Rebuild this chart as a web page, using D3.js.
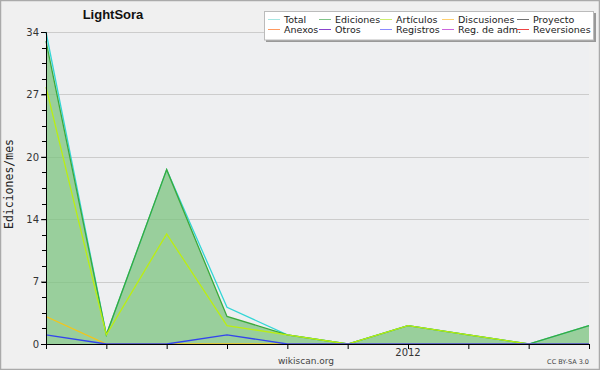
<!DOCTYPE html>
<html><head><meta charset="utf-8">
<script src="https://cdn.jsdelivr.net/npm/d3@7"></script>
<style>body{margin:0;background:#fff}svg{display:block;font-family:"DejaVu Sans",sans-serif}</style>
</head><body><svg id="c" width="600" height="370"></svg>
<script>
const months = ["2011-07","2011-08","2011-09","2011-10","2011-11","2011-12","2012-01","2012-02","2012-03","2012-04"];
const total      = [34,1,19,4,1,0,2,1,0,2];
const ediciones  = [33,1,19,3,1,0,2,1,0,2];
const articulos  = [28,1,12,2,1,0,2,1,0,0];
const discusiones= [3,0,0,0,0,0,0,0,0,0];
const proyecto   = [0,0,0,0,0,0,0,0,0,0];
const anexos     = [0,0,0,0,0,0,0,0,0,0];
const otros      = [0,0,0,0,0,0,0,0,0,0];
const registros  = [1,0,0,1,0,0,0,0,0,0];
const regAdm     = [0,0,0,0,0,0,0,0,0,0];
const reversiones= [0,0,0,0,0,0,0,0,0,0];
const yTicks = [0,7,14,20,27,34];
const xLabels = [{i:6,t:"2012"}];

const series = [
 {name:"Total",vals:total,legend:"#a6e6e2",line:"#33d6d6"},
 {name:"Ediciones",vals:ediciones,legend:"#80c488",line:"#3aaa3a"},
 {name:"Artículos",vals:articulos,legend:"#cdee70",line:"#bbee11"},
 {name:"Discusiones",vals:discusiones,legend:"#ffd070",line:"#f5c518"},
 {name:"Proyecto",vals:proyecto,legend:"#707070",line:"#555"},
 {name:"Anexos",vals:anexos,legend:"#ff9a60",line:"#ff7a30"},
 {name:"Otros",vals:otros,legend:"#8a44cc",line:"#7733bb"},
 {name:"Registros",vals:registros,legend:"#8a8aff",line:"#3344ee"},
 {name:"Reg. de adm.",vals:regAdm,legend:"#cc66dd",line:"#bb44cc"},
 {name:"Reversiones",vals:reversiones,legend:"#ee4444",line:"#dd2222"}
];

const svg = d3.select("#c");
svg.append("rect").attr("x",0.5).attr("y",0.5).attr("width",599).attr("height",369)
  .attr("fill","#f0f0f0").attr("stroke","#aaa").attr("stroke-width",1.5);
const L=46,R=589,T=32,B=344;
svg.append("rect").attr("x",L).attr("y",T).attr("width",R-L).attr("height",B-T).attr("fill","#eeeff1");

const x = d3.scaleLinear().domain([0,months.length-1]).range([L,R]);
const y = d3.scaleLinear().domain([0,34]).range([B,T]);
const yMajor = [0,6.8,13.6,20.4,27.2,34];

// grid
svg.append("g").selectAll("line").data(yMajor.slice(1)).join("line")
  .attr("x1",L).attr("x2",R).attr("y1",d=>Math.round(y(d))+0.5).attr("y2",d=>Math.round(y(d))+0.5)
  .attr("stroke","#cccccc").attr("stroke-width",1);

// area
svg.append("path").datum(ediciones)
  .attr("d",d3.area().x((d,i)=>x(i)).y0(B).y1(d=>y(d)))
  .attr("fill","#7cc47f").attr("fill-opacity",0.75);

// lines
const line = d3.line().x((d,i)=>x(i)).y(d=>y(d));
const order=["Total","Ediciones","Artículos","Discusiones","Registros"];
order.forEach(n=>{
  const s=series.find(q=>q.name===n);
  svg.append("path").datum(s.vals).attr("d",line).attr("fill","none")
   .attr("stroke",s.line).attr("stroke-width",1.3);
});

// axes
const yAxis = d3.axisLeft(y).tickValues(yMajor).tickSize(5)
  .tickFormat((d,i)=>yTicks[i]);
const gy = svg.append("g").attr("transform",`translate(${L},0)`).call(yAxis);
gy.select(".domain").attr("stroke","#000");
gy.selectAll(".tick line").attr("stroke","#000");
gy.selectAll("text").attr("font-size",10).attr("fill","#333").attr("dx",1).attr("font-family","DejaVu Sans");
const minor=[];
for(let v=0;v<=34.001;v+=1.7) minor.push(v);
svg.append("g").selectAll("line").data(minor).join("line")
  .attr("x1",L-4).attr("x2",L).attr("y1",d=>Math.round(y(d))+0.5).attr("y2",d=>Math.round(y(d))+0.5)
  .attr("stroke","#000");

const xAxis = d3.axisBottom(x).tickValues(d3.range(months.length)).tickSize(5).tickFormat(()=>"");
const gx = svg.append("g").attr("transform",`translate(0,${B})`).call(xAxis);
gx.select(".domain").attr("stroke","#000");
gx.selectAll(".tick line").attr("stroke","#000");
svg.append("g").selectAll("text").data(xLabels).join("text")
  .attr("x",d=>x(d.i)).attr("y",356).attr("text-anchor","middle")
  .attr("font-size",10).attr("fill","#333").text(d=>d.t);

// texts
svg.append("text").attr("x",113).attr("y",19).attr("text-anchor","middle")
  .attr("font-family","Liberation Sans, Arial, sans-serif")
  .attr("font-weight","bold").attr("font-size",13).attr("fill","#111").text("LightSora");
svg.append("text").attr("transform","translate(13,184) rotate(-90)").attr("text-anchor","middle")
  .attr("font-family","DejaVu Sans Mono, monospace")
  .attr("font-size",11.5).attr("fill","#222").text("Ediciones/mes");
svg.append("text").attr("x",306).attr("y",364).attr("text-anchor","middle")
  .attr("font-size",9).attr("fill","#444").text("wikiscan.org");
svg.append("text").attr("x",589).attr("y",364).attr("text-anchor","end")
  .attr("font-size",6.5).attr("fill","#444").text("CC BY-SA 3.0");

// legend
svg.append("rect").attr("x",266).attr("y",13).attr("width",330).attr("height",29).attr("fill","#999");
svg.append("rect").attr("x",264.5).attr("y",11.5).attr("width",329).attr("height",28.5)
  .attr("fill","#fff").attr("stroke","#bbb");
const colX=[268,319,380,442,517];
const lg = svg.append("g");
series.forEach((s,i)=>{
  const c=i%5,r=Math.floor(i/5);
  const yy = 19.5+r*10;
  lg.append("line").attr("x1",colX[c]).attr("x2",colX[c]+12).attr("y1",yy).attr("y2",yy)
    .attr("stroke",s.legend).attr("stroke-width",1);
  lg.append("text").attr("x",colX[c]+16).attr("y",yy+3.5).attr("font-size",9.5).attr("fill","#222").text(s.name);
});
</script></body></html>
